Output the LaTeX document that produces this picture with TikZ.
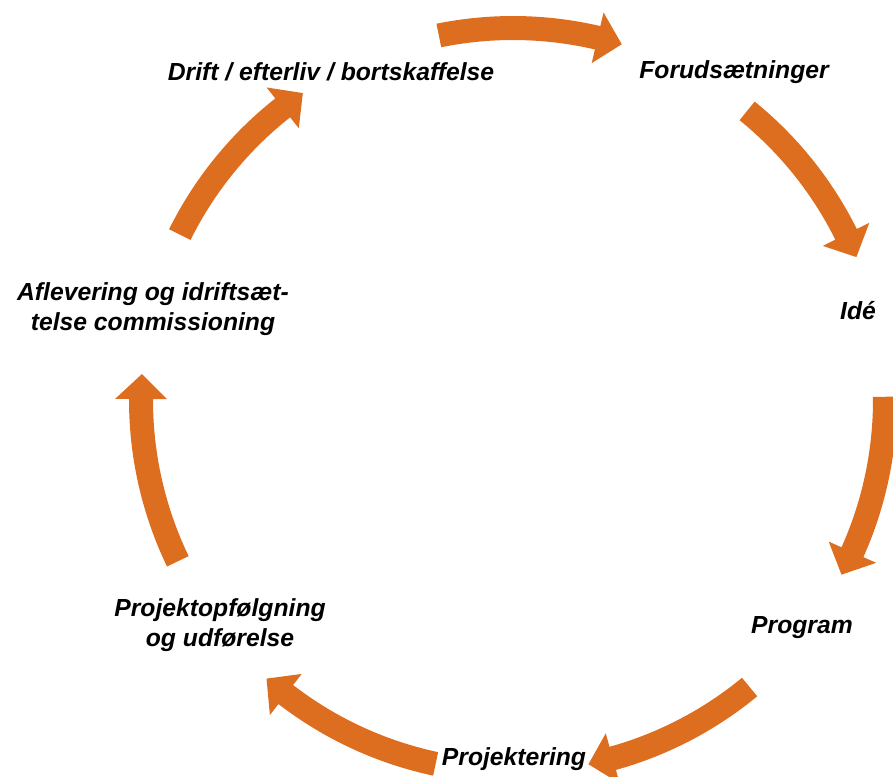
\documentclass[tikz,border=0pt]{standalone}
\usepackage{fontspec}
\setmainfont{Liberation Sans}
\definecolor{arrorange}{RGB}{221,110,31}
\tikzset{lbl/.style={font=\bfseries\itshape\fontsize{24.7}{29.5}\selectfont, align=center, inner sep=0pt}}
\newcommand\cycarrow[2]{%
 \pgfmathsetmacro\bs{#2+3.85}%
 \fill[arrorange] (#1:360pt) arc[start angle=#1, end angle=\bs, radius=360pt]
   -- (\bs:346pt) -- (#2:372pt) -- (\bs:398pt) -- (\bs:384pt)
   arc[start angle=\bs, end angle=#1, radius=384pt] -- cycle;}
\begin{document}
\begin{tikzpicture}[x=1pt,y=1pt]
\useasboundingbox (0,0) rectangle (893,-776);
\begin{scope}[shift={(513,-400)}]
\cycarrow{101.5}{73}
\cycarrow{51}{22.6}
\cycarrow{0.5}{-28}
\cycarrow{-50.5}{-78.3}
\cycarrow{-102}{-131.5}
\cycarrow{-154.3}{-184}
\cycarrow{153.6}{124.4}
\end{scope}
\node[lbl] (drift) at (331,-72) {Drift / efterliv / bortskaffelse};
\node[lbl] (foru) at (734,-72) {Forudsætninger};
\node[lbl] (ide) at (858,-311) {Idé};
\node[lbl] (prog) at (802,-628) {Program};
\node[lbl] (proj) at (514,-759) {Projektering};
\node[lbl] (udf) at (220,-625) {Projektopfølgning\\og udførelse};
\node[lbl] (afl) at (153,-309) {Aflevering og idriftsæt-\\telse commissioning};
\end{tikzpicture}
\end{document}
